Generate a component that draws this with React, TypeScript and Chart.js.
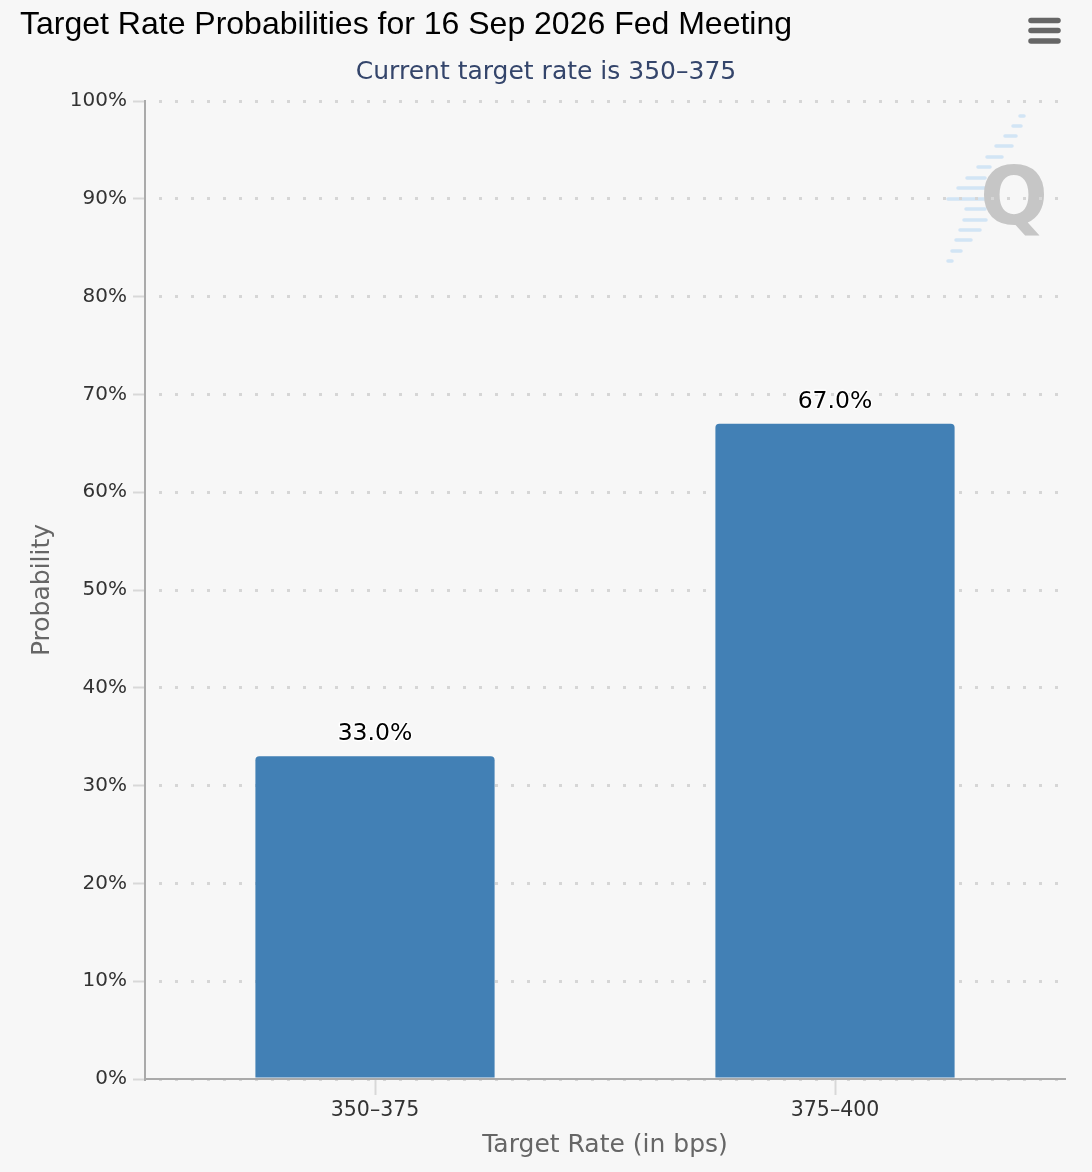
import React, { useEffect, useRef } from 'react';
import { Chart, registerables } from 'chart.js';

Chart.register(...registerables);

const chartTitle = 'Target Rate Probabilities for 16 Sep 2026 Fed Meeting';
const chartSubtitle = 'Current target rate is 350–375';
const categories = ['350–375', '375–400'];
const probabilities = [33.0, 67.0];
const yAxisTitle = 'Probability';
const xAxisTitle = 'Target Rate (in bps)';
const yMin = 0;
const yMax = 100;
const yStep = 10;

const FONT = '"Lucida Grande", "DejaVu Sans", sans-serif';
const BG = '#f7f7f7';

export default function App() {
  const ref = useRef<HTMLCanvasElement>(null);

  useEffect(() => {
    document.documentElement.style.background = BG;
    document.body.style.margin = '0';
    document.body.style.background = BG;
    const canvas = ref.current!;

    const decor = {
      id: 'decor',
      beforeDraw(chart: any) {
        const ctx = chart.ctx as CanvasRenderingContext2D;
        ctx.save();
        ctx.fillStyle = BG;
        ctx.fillRect(0, 0, chart.width, chart.height);
        // watermark: light blue stripes + grey Q
        const stripes: [number, number, number][] = [
          [116, 1020, 1024], [126, 1013, 1021], [136, 1005, 1016], [146, 996, 1012],
          [157, 987, 1002], [167, 978, 990], [178, 967, 985], [188, 958, 985],
          [199, 948, 985], [209, 966, 985], [220, 964, 986], [230, 960, 980],
          [240, 956, 971], [251, 952, 961], [261, 948, 952],
        ];
        ctx.strokeStyle = 'rgba(190, 220, 244, 0.65)';
        ctx.lineWidth = 3.5;
        ctx.lineCap = 'round';
        for (const [y, x1, x2] of stripes) {
          ctx.beginPath();
          ctx.moveTo(x1, y);
          ctx.lineTo(x2, y);
          ctx.stroke();
        }
        ctx.fillStyle = '#c6c6c6';
        ctx.font = 'bold 80px "DejaVu Sans", sans-serif';
        ctx.textAlign = 'center';
        ctx.textBaseline = 'alphabetic';
        ctx.fillText('Q', 1014, 224);
        ctx.restore();
      },
      afterDraw(chart: any) {
        const ctx = chart.ctx as CanvasRenderingContext2D;
        ctx.save();
        ctx.fillStyle = '#000';
        ctx.font = '32px "Liberation Sans", Arial, sans-serif';
        ctx.textAlign = 'left';
        ctx.textBaseline = 'middle';
        ctx.fillText(chartTitle, 20, 25);

        ctx.fillStyle = '#34456b';
        ctx.font = `25px ${FONT}`;
        ctx.textAlign = 'center';
        ctx.fillText(chartSubtitle, 546, 72);

        // menu icon
        ctx.strokeStyle = '#666';
        ctx.lineWidth = 5.5;
        ctx.lineCap = 'round';
        for (const y of [20.5, 30.5, 41]) {
          ctx.beginPath();
          ctx.moveTo(1031, y);
          ctx.lineTo(1058, y);
          ctx.stroke();
        }
        ctx.restore();
      },
    };

    const barLabels = {
      id: 'barLabels',
      afterDatasetsDraw(chart: any) {
        const ctx = chart.ctx as CanvasRenderingContext2D;
        const meta = chart.getDatasetMeta(0);
        ctx.save();
        ctx.font = `23.5px ${FONT}`;
        ctx.textAlign = 'center';
        ctx.textBaseline = 'middle';
        ctx.lineJoin = 'round';
        meta.data.forEach((bar: any, i: number) => {
          const text = probabilities[i].toFixed(1) + '%';
          ctx.strokeStyle = 'rgba(255,255,255,0.9)';
          ctx.lineWidth = 3;
          ctx.strokeText(text, bar.x, bar.y - 22);
          ctx.fillStyle = '#000';
          ctx.fillText(text, bar.x, bar.y - 22);
        });
        ctx.restore();
      },
    };

    const chart = new Chart(canvas, {
      type: 'bar',
      data: {
        labels: categories,
        datasets: [
          {
            data: probabilities,
            backgroundColor: '#4280b5',
            borderWidth: 0,
            borderRadius: 4,
            borderSkipped: 'start',
            barPercentage: 0.52,
            categoryPercentage: 1,
          },
        ],
      },
      options: {
        responsive: false,
        animation: false,
        layout: { padding: { top: 101, left: 0, right: 27, bottom: 0 } },
        plugins: {
          legend: { display: false },
          tooltip: { enabled: false },
          title: { display: false },
        },
        scales: {
          x: {
            offset: true,
            grid: {
              display: true,
              offset: false,
              drawOnChartArea: false,
              drawTicks: true,
              tickLength: 16,
              tickColor: '#d8d8d8',
              tickWidth: 2,
            },
            border: { display: true, color: '#aaaaaa', width: 2 },
            ticks: {
              color: '#333',
              font: { family: FONT, size: 20.5 },
              padding: 3,
            },
            title: {
              display: true,
              text: xAxisTitle,
              color: '#666',
              font: { family: FONT, size: 25 },
              padding: { top: 0, bottom: 12 },
            },
            afterFit(scale: any) {
              scale.height = 93;
            },
          },
          y: {
            min: yMin,
            max: yMax,
            ticks: {
              stepSize: yStep,
              color: '#333',
              font: { family: FONT, size: 20 },
              padding: 6,
              callback: (v: any) => `${v}%`,
            },
            grid: {
              color: '#d6d6d6',
              lineWidth: 3,
              tickLength: 12,
              tickColor: '#d8d8d8',
              tickWidth: 2,
              tickBorderDash: [],
            },
            border: { display: true, color: '#aaaaaa', width: 2, dash: [3, 13], dashOffset: 3 },
            title: {
              display: true,
              text: yAxisTitle,
              color: '#666',
              font: { family: FONT, size: 25 },
              padding: { top: 27, bottom: 0 },
            },
            afterFit(scale: any) {
              scale.width = 145;
            },
          },
        },
      } as any,
      plugins: [decor, barLabels],
    });

    return () => chart.destroy();
  }, []);

  return (
    <canvas
      ref={ref}
      width={1092}
      height={1172}
      style={{ display: 'block', width: 1092, height: 1172 }}
    />
  );
}
